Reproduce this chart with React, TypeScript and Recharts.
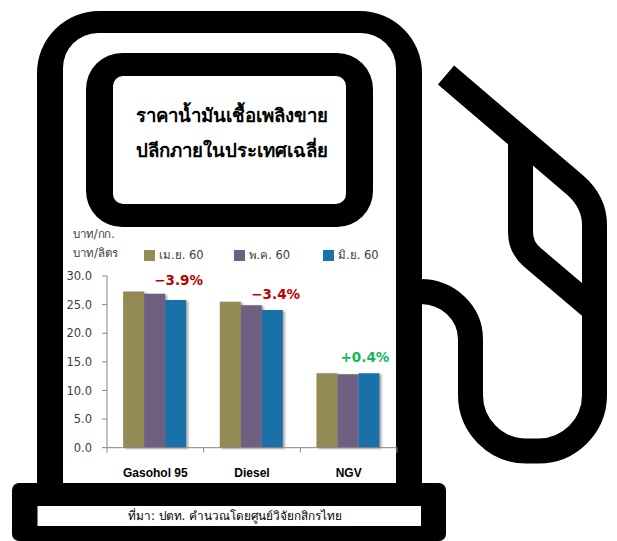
import { BarChart, Bar, XAxis, YAxis, Legend, LabelList } from "recharts";

const categories = ["Gasohol 95", "Diesel", "NGV"];
const apr = [27.3, 25.5, 13.0];
const may = [26.9, 24.9, 12.85];
const jun = [25.8, 24.05, 13.0];
const changes = ["−3.9%", "−3.4%", "+0.4%"];
const yTicks = [0, 5, 10, 15, 20, 25, 30];
const seriesNames = ["เม.ย. 60", "พ.ค. 60", "มิ.ย. 60"];
const seriesColors = ["#948a54", "#6f5f80", "#1a70a8"];
const titleLines = ["ราคาน้ำมันเชื้อเพลิงขาย", "ปลีกภายในประเทศเฉลี่ย"];
const unitLabels = ["บาท/กก.", "บาท/ลิตร"];
const source = "ที่มา: ปตท. คำนวณโดยศูนย์วิจัยกสิกรไทย";

const data = categories.map((name, i) => ({
  name,
  apr: apr[i],
  may: may[i],
  jun: jun[i],
}));

const axisColor = "#868686";
const textFont = "'DejaVu Sans', 'Noto Sans', sans-serif";
const barShadow = { filter: "drop-shadow(2px 1px 1px rgba(0,0,0,0.35))" };
const bandWidth = 290 / categories.length;

function Pump() {
  return (
    <svg width={617} height={541} style={{ position: "absolute", left: 0, top: 0 }}>
      <path d="M37,490 V73 A62,62 0 0 1 99,11 H360 A62,62 0 0 1 422,73 V490 Z" fill="#000" />
      <path d="M63,490 V68 A35,35 0 0 1 98,33 H361 A35,35 0 0 1 396,68 V490 Z" fill="#fff" />
      <rect x={86} y={53} width={287} height={174} rx={36} fill="#000" />
      <rect x={113} y={76} width={233} height={128} rx={10} fill="#fff" />
      <rect x={12} y={483} width={434} height={58} rx={7} fill="#000" />
      <rect x={37.5} y={506} width={383.5} height={20} fill="#fff" />
      <g fill="none" stroke="#000" strokeWidth={25}>
        <path d="M420,291.5 A50,48 0 0 1 470.5,340 V395 A56,56 0 0 0 526.5,451 H538.5 A56,56 0 0 0 594.5,395 V225 Q594.5,202 575,185 L446,75" />
        <path d="M520.5,140 V232 Q520.5,247 532,257 L594.5,310" />
      </g>
      <g fontFamily="'Liberation Sans', 'Noto Sans', sans-serif" fontWeight="bold" fontSize={18.6} textAnchor="middle" fill="#000">
        <text x={232} y={122}>{titleLines[0]}</text>
        <text x={232} y={157}>{titleLines[1]}</text>
      </g>
      <g fontFamily={textFont} fontSize={11.5} fill="#404040">
        <text x={73} y={238} textLength={42}>{unitLabels[0]}</text>
        <text x={73} y={257}>{unitLabels[1]}</text>
      </g>
      <text x={235} y={520} fontFamily={textFont} fontSize={11.8} textAnchor="middle" fill="#000">
        {source}
      </text>
    </svg>
  );
}

function CategoryTick({ x, y, payload, index }: any) {
  const left = x - bandWidth / 2;
  const axisY = y - 8;
  return (
    <g>
      <line x1={left} y1={axisY} x2={left} y2={axisY + 5} stroke={axisColor} />
      {index === categories.length - 1 && (
        <line x1={left + bandWidth} y1={axisY} x2={left + bandWidth} y2={axisY + 5} stroke={axisColor} />
      )}
      <text
        x={x}
        y={axisY + 29}
        textAnchor="middle"
        fontFamily="'Liberation Sans', sans-serif"
        fontWeight="bold"
        fontSize={12}
        fill="#000"
      >
        {payload.value}
      </text>
    </g>
  );
}

// the change labels sit by hand in the source, not centred on the bars
const labelShiftX = [3, 3.4, -4];
const labelShiftY = [-15, -11, -11];

function ChangeLabel({ x, y, width, index }: any) {
  const text = changes[index];
  return (
    <text
      x={x + width / 2 + labelShiftX[index]}
      y={y + labelShiftY[index]}
      textAnchor="middle"
      fontFamily={textFont}
      fontWeight="bold"
      fontSize={13.5}
      fill={text.startsWith("+") ? "#12b85a" : "#c00000"}
    >
      {text}
    </text>
  );
}

function LegendRow() {
  return (
    <div style={{ display: "flex", height: 0, alignItems: "flex-start" }}>
      {seriesNames.map((name, i) => (
        <div key={name} style={{ width: 89.5, flexShrink: 0, display: "flex", alignItems: "center" }}>
          <span style={{ width: 11, height: 11, background: seriesColors[i], marginRight: 4 }} />
          <span style={{ fontFamily: textFont, fontSize: 11.5, color: "#404040" }}>{name}</span>
        </div>
      ))}
    </div>
  );
}

export default function App() {
  return (
    <div style={{ position: "absolute", left: 0, top: 0, width: 617, height: 541, background: "#fff" }}>
      <Pump />
      <div style={{ position: "absolute", left: 0, top: 0 }}>
        <BarChart
          width={617}
          height={541}
          data={data}
          margin={{ top: 276, right: 220, bottom: 53.3, left: 0 }}
          barCategoryGap="16.67%"
          barGap={0}
        >
          <XAxis
            dataKey="name"
            height={40}
            stroke={axisColor}
            tickLine={false}
            interval={0}
            tick={<CategoryTick />}
          />
          <YAxis
            width={107}
            domain={[0, 30]}
            ticks={yTicks}
            stroke={axisColor}
            tickSize={5}
            tickMargin={10}
            tickFormatter={(v: number) => v.toFixed(1)}
            tick={{ fontFamily: textFont, fontSize: 11.5, fill: "#404040" }}
          />
          <Legend
            content={<LegendRow />}
            wrapperStyle={{ position: "absolute", left: 144, top: 246, width: 280, height: 0, bottom: "auto" }}
          />
          <Bar dataKey="apr" name={seriesNames[0]} fill={seriesColors[0]} isAnimationActive={false} style={barShadow} />
          <Bar dataKey="may" name={seriesNames[1]} fill={seriesColors[1]} isAnimationActive={false} style={barShadow} />
          <Bar dataKey="jun" name={seriesNames[2]} fill={seriesColors[2]} isAnimationActive={false} style={barShadow}>
            <LabelList dataKey="jun" content={<ChangeLabel />} />
          </Bar>
        </BarChart>
      </div>
    </div>
  );
}
